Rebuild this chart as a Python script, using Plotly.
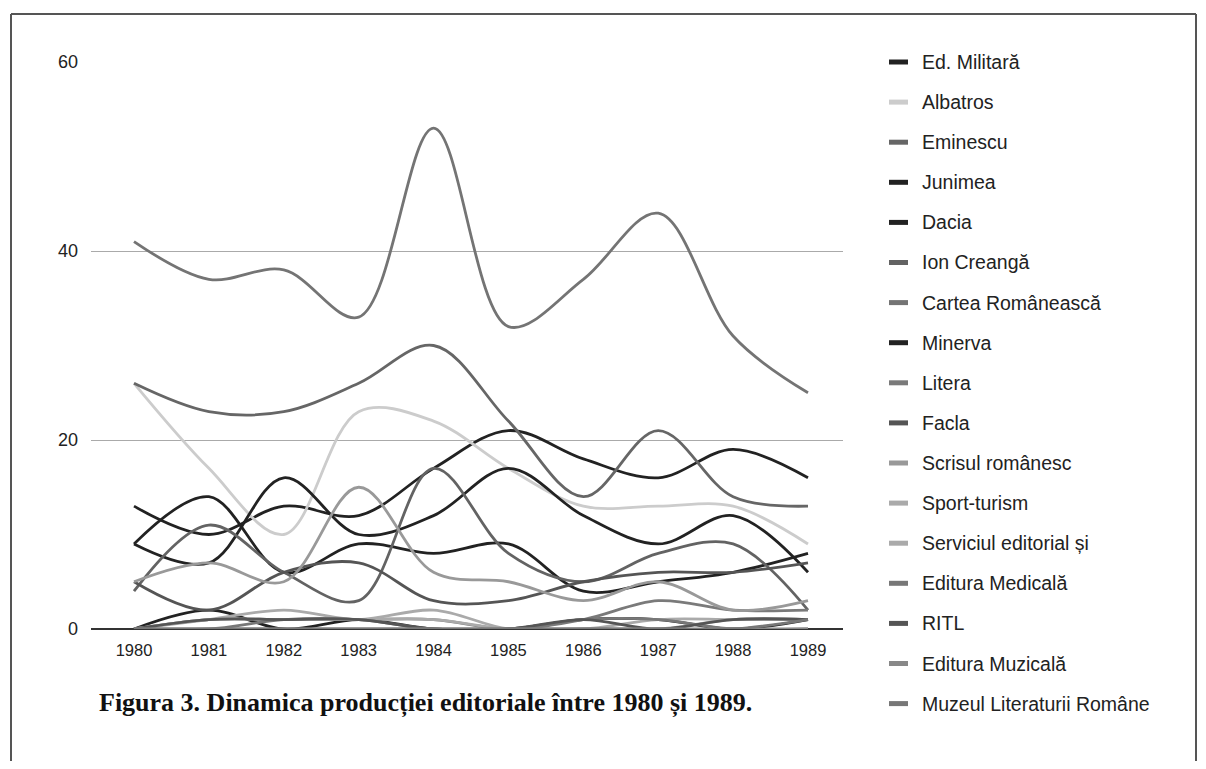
import plotly.graph_objects as go

years = [1980, 1981, 1982, 1983, 1984, 1985, 1986, 1987, 1988, 1989]
year_labels = [str(y) for y in years]
y_ticks = [0, 20, 40, 60]

ed_militara = [13, 10, 13, 12, 17, 21, 18, 16, 19, 16]
albatros = [26, 17, 10, 23, 22, 17, 13, 13, 13, 9]
eminescu = [26, 23, 23, 26, 30, 22, 14, 21, 14, 13]
junimea = [9, 7, 16, 10, 12, 17, 12, 9, 12, 6]
dacia = [9, 14, 6, 9, 8, 9, 4, 5, 6, 8]
ion_creanga = [4, 11, 6, 3, 17, 8, 5, 8, 9, 2]
cartea_romaneasca = [41, 37, 38, 33, 53, 32, 37, 44, 31, 25]
minerva = [0, 2, 0, 1, 0, 0, 1, 1, 0, 1]
litera = [0, 1, 1, 1, 1, 0, 1, 3, 2, 2]
facla = [5, 2, 6, 7, 3, 3, 5, 6, 6, 7]
scrisul_romanesc = [5, 7, 5, 15, 6, 5, 3, 5, 2, 3]
sport_turism = [0, 1, 2, 1, 2, 0, 0, 1, 1, 1]
serviciul_editorial = [0, 1, 1, 1, 1, 0, 0, 0, 1, 1]
editura_medicala = [0, 0, 1, 1, 0, 0, 1, 1, 0, 0]
ritl = [0, 1, 1, 1, 0, 0, 1, 0, 1, 1]
editura_muzicala = [0, 0, 0, 0, 0, 0, 0, 0, 0, 0]
muzeul_literaturii = [0, 0, 0, 0, 0, 0, 0, 0, 0, 1]

series = [
    ("Ed. Militară", ed_militara, "#222222"),
    ("Albatros", albatros, "#cccccc"),
    ("Eminescu", eminescu, "#666666"),
    ("Junimea", junimea, "#222222"),
    ("Dacia", dacia, "#222222"),
    ("Ion Creangă", ion_creanga, "#636363"),
    ("Cartea Românească", cartea_romaneasca, "#747474"),
    ("Minerva", minerva, "#222222"),
    ("Litera", litera, "#7a7a7a"),
    ("Facla", facla, "#555555"),
    ("Scrisul românesc", scrisul_romanesc, "#999999"),
    ("Sport-turism", sport_turism, "#aaaaaa"),
    ("Serviciul editorial și", serviciul_editorial, "#aaaaaa"),
    ("Editura Medicală", editura_medicala, "#777777"),
    ("RITL", ritl, "#555555"),
    ("Editura Muzicală", editura_muzicala, "#888888"),
    ("Muzeul Literaturii Române", muzeul_literaturii, "#777777"),
]

# page has an 8px body margin; figure coordinates are offset accordingly
OFF = 8
W, H = 1206 - 2 * OFF, 769 - 2 * OFF
L = 91 - OFF
T = 62 - OFF
R = W - (843 - OFF)
B = H - (629 - OFF)
PW, PH = W - L - R, H - T - B


def px_x(px):
    return (px - OFF - L) / PW


def px_y(py):
    return (H - B - (py - OFF)) / PH


fig = go.Figure()
for name, vals, col in series:
    fig.add_trace(go.Scatter(
        x=years, y=vals, name=name, mode="lines",
        line=dict(color=col, width=2.8, shape="spline", smoothing=1),
        showlegend=False,
    ))

shapes = []
annotations = []
for i, (name, vals, col) in enumerate(series):
    cy = 62 + i * 40.1
    shapes.append(dict(type="line", xref="paper", yref="paper",
                       x0=px_x(889), x1=px_x(908), y0=px_y(cy), y1=px_y(cy),
                       line=dict(color=col, width=5)))
    annotations.append(dict(xref="paper", yref="paper", x=px_x(920), y=px_y(cy),
                            text=name, showarrow=False, xanchor="left", yanchor="middle",
                            font=dict(family="Liberation Sans, Arial, sans-serif", size=19.5, color="#222222")))

# frame
frame_col = "#555555"
shapes.append(dict(type="line", xref="paper", yref="paper", x0=px_x(11), x1=px_x(11),
                   y0=px_y(14), y1=px_y(800), line=dict(color=frame_col, width=2)))
shapes.append(dict(type="line", xref="paper", yref="paper", x0=px_x(11), x1=px_x(1196),
                   y0=px_y(14), y1=px_y(14), line=dict(color=frame_col, width=2)))
shapes.append(dict(type="line", xref="paper", yref="paper", x0=px_x(1196), x1=px_x(1196),
                   y0=px_y(14), y1=px_y(800), line=dict(color=frame_col, width=2)))

annotations.append(dict(xref="paper", yref="paper", x=px_x(97), y=px_y(703),
                        text="<b>Figura 3. Dinamica producției editoriale între 1980 și 1989.</b>",
                        showarrow=False, xanchor="left", yanchor="middle",
                        font=dict(family="Liberation Serif, Times New Roman, serif", size=26, color="#111111")))

px_per_year = (808 - 134) / 9
x0 = 1980 - (134 - 91) / px_per_year
x1 = 1989 + (843 - 808) / px_per_year

fig.update_layout(
    width=W, height=H,
    margin=dict(l=L, r=R, t=T, b=B, pad=0),
    paper_bgcolor="white", plot_bgcolor="white",
    shapes=shapes, annotations=annotations,
    xaxis=dict(range=[x0, x1], tickvals=years, ticktext=year_labels,
               showgrid=False, zeroline=False, showline=False,
               ticks="", ticklabelstandoff=9,
               tickfont=dict(family="Liberation Sans, Arial, sans-serif", size=16.5, color="#222222")),
    yaxis=dict(range=[0, 60], tickvals=y_ticks, ticktext=[str(v) for v in y_ticks],
               showgrid=True, gridcolor="#aaaaaa", gridwidth=1,
               zeroline=True, zerolinecolor="#333333", zerolinewidth=2,
               showline=False, ticks="", ticklabelstandoff=12,
               tickfont=dict(family="Liberation Sans, Arial, sans-serif", size=18, color="#222222")),
)

fig.write_html("out.html")
